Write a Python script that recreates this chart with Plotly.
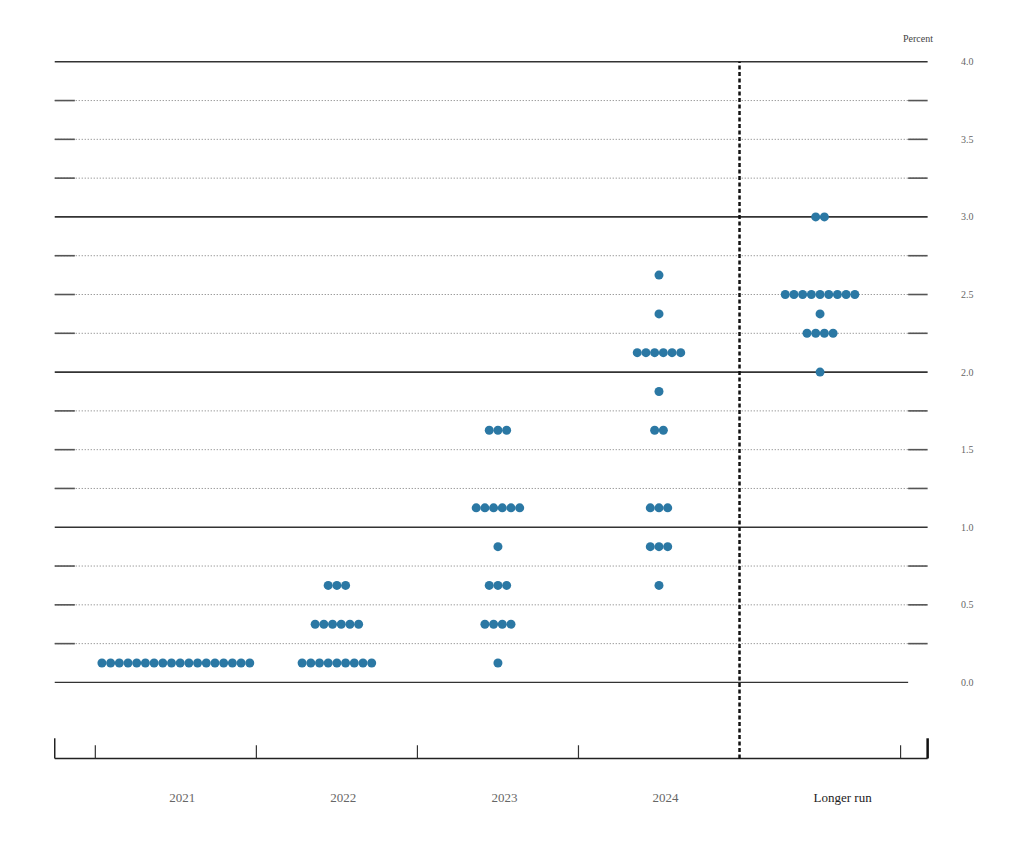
import plotly.graph_objects as go

# ---- data ----
categories = ["2021", "2022", "2023", "2024", "Longer run"]
# (rate level, number of participants) per category
dots_2021 = [(0.125, 18)]
dots_2022 = [(0.125, 9), (0.375, 6), (0.625, 3)]
dots_2023 = [(0.125, 1), (0.375, 4), (0.625, 3), (0.875, 1), (1.125, 6), (1.625, 3)]
dots_2024 = [(0.625, 1), (0.875, 3), (1.125, 3), (1.625, 2), (1.875, 1),
             (2.125, 6), (2.375, 1), (2.625, 1)]
dots_longer = [(2.0, 1), (2.25, 4), (2.375, 1), (2.5, 9), (3.0, 2)]
all_dots = [dots_2021, dots_2022, dots_2023, dots_2024, dots_longer]
y_tick_vals = [0.0, 0.5, 1.0, 1.5, 2.0, 2.5, 3.0, 3.5, 4.0]
y_tick_text = ["0.0", "0.5", "1.0", "1.5", "2.0", "2.5", "3.0", "3.5", "4.0"]

# ---- styling / geometry ----
DOT_COLOR = "#2b78a4"
SPACING = 0.054
X0, X1 = -0.752, 4.668
Y_BOT = -0.49
SERIF = "Liberation Serif, DejaVu Serif, serif"
ML, MR, MT, MB = 39, 96, 46, 113
W, H = 1024, 865

xs, ys = [], []
for i, groups in enumerate(all_dots):
    for level, n in groups:
        for k in range(n):
            xs.append(i + (k - (n - 1) / 2) * SPACING)
            ys.append(level)

fig = go.Figure()
fig.add_trace(go.Scatter(x=xs, y=ys, mode="markers",
                         marker=dict(size=9, color=DOT_COLOR, line=dict(width=0)),
                         hoverinfo="y", showlegend=False))

shapes = []
levels = [i * 0.25 for i in range(17)]
for lv in levels:
    if lv == 0:
        shapes.append(dict(type="line", x0=X0, x1=4.547, y0=lv, y1=lv,
                           line=dict(color="#333", width=1.3), layer="below"))
    elif abs(lv - round(lv)) < 1e-9:
        shapes.append(dict(type="line", x0=X0, x1=X1, y0=lv, y1=lv,
                           line=dict(color="#333", width=1.6), layer="below"))
    else:
        shapes.append(dict(type="line", x0=X0, x1=X1, y0=lv, y1=lv,
                           line=dict(color="#777", width=1, dash="1px,2px"), layer="below"))
        shapes.append(dict(type="line", x0=X0, x1=-0.627, y0=lv, y1=lv,
                           line=dict(color="#555", width=1.6), layer="below"))
        shapes.append(dict(type="line", x0=4.547, x1=X1, y0=lv, y1=lv,
                           line=dict(color="#555", width=1.6), layer="below"))

# bottom axis line
shapes.append(dict(type="line", x0=X0, x1=X1, y0=Y_BOT, y1=Y_BOT,
                   line=dict(color="#222", width=1.5)))
# end ticks
shapes.append(dict(type="line", x0=X0, x1=X0, y0=Y_BOT, y1=-0.36,
                   line=dict(color="#222", width=1.5)))
shapes.append(dict(type="line", x0=X1, x1=X1, y0=Y_BOT, y1=-0.36,
                   line=dict(color="#111", width=2.5)))
# minor ticks at column boundaries
for b in [-0.5, 0.5, 1.5, 2.5, 4.5]:
    shapes.append(dict(type="line", x0=b, x1=b, y0=Y_BOT, y1=-0.405,
                       line=dict(color="#333", width=1.2)))
# dashed separator
shapes.append(dict(type="line", x0=3.5, x1=3.5, y0=Y_BOT, y1=4.0,
                   line=dict(color="#111", width=2.5, dash="4px,2.5px")))

label_pos = [i + (0.04 if i < 4 else 0.14) for i in range(len(categories))]
label_text = [c if i < 4 else '<span style="color:#222">' + c + "</span>"
              for i, c in enumerate(categories)]

fig.update_layout(
    width=W, height=H,
    margin=dict(l=ML, r=MR, t=MT, b=MB),
    paper_bgcolor="white", plot_bgcolor="white",
    shapes=shapes,
    xaxis=dict(range=[-0.8, 4.72], showgrid=False, zeroline=False, showline=False,
               tickvals=label_pos, ticktext=label_text, ticks="",
               ticklabelstandoff=28,
               tickfont=dict(family=SERIF, size=13, color="#666")),
    yaxis=dict(range=[-0.5, 4.05], side="right", showgrid=False, zeroline=False,
               showline=False, tickvals=y_tick_vals, ticktext=y_tick_text, ticks="",
               ticklabelstandoff=24,
               tickfont=dict(family=SERIF, size=10, color="#666")),
)
pw = W - ML - MR
ph = H - MT - MB
fig.add_annotation(text="Percent", xref="paper", yref="paper",
                   x=(910 - ML) / pw, y=(H - MB - 30) / ph,
                   xanchor="center", yanchor="middle", showarrow=False,
                   font=dict(family=SERIF, size=10, color="#444"))
fig.write_html("out.html")
